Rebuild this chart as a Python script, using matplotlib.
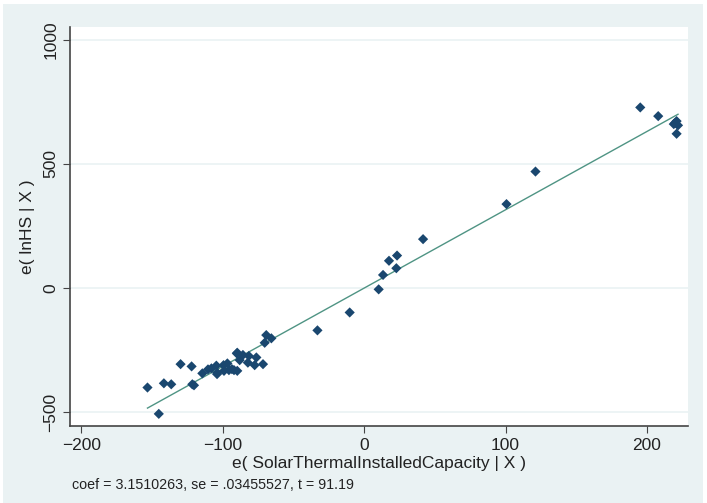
import numpy as np
import matplotlib
matplotlib.use("Agg")
import matplotlib.pyplot as plt
from matplotlib.patches import Rectangle

plt.rcParams['font.family'] = ['Liberation Sans', 'DejaVu Sans']

# residuals
ex = [195.3, 208.0, 219.0, 221.0, 222.0, 220.0, 221.0, 121.2, 100.7,
      41.7, 23.3, 17.6, 22.8, 13.4, 10.3, -10.2, -33.0,
      -69.2, -65.6, -70.3, -89.7, -85.7, -81.5, -76.2, -88.0, -82.2, -77.4, -71.5,
      -96.7, -104.5, -108.0, -110.4, -103.8, -99.1, -95.6, -92.0, -89.7, -114.4,
      -129.8, -122.0, -141.6, -136.4, -153.2, -121.5, -120.3, -145.2,
      -90.0, -99.4, -93.5, -104.0]
ey = [727, 692, 660, 672, 655, 665, 621, 469, 338,
      197, 131, 110, 80, 53, -5, -98, -170,
      -189, -202, -220, -260, -269, -273, -279, -290, -300, -310, -306,
      -303, -312, -323, -327, -341, -333, -330, -330, -333, -343,
      -306, -315, -383, -387, -400, -387, -391, -506,
      -263, -310, -326, -346]
coef = 3.1510263
note = "coef = 3.1510263, se = .03455527, t = 91.19"

bg = '#eaf2f3'
fig = plt.figure(figsize=(7.07, 5.03), dpi=100)
fig.patch.set_facecolor('white')
fig.patches.append(Rectangle((0.004, 0.0), 0.99, 0.992, transform=fig.transFigure,
                             facecolor=bg, edgecolor='none', zorder=-10))
ax = fig.add_axes([0.099, 0.153, 0.874, 0.793])
ax.set_facecolor('white')

xs = np.array(ex)
lx = np.array([xs.min(), xs.max()])
ax.plot(lx, coef * lx, color='#4f9484', lw=1.0, zorder=2)
ax.scatter(ex, ey, marker='D', s=27, color='#1a476f', edgecolors='none', zorder=3)

ax.set_xlim(-208, 229)
ax.set_ylim(-555, 1050)
ax.set_xticks([-200, -100, 0, 100, 200])
ax.set_yticks([-500, 0, 500, 1000])
for yv in [-500, 0, 500, 1000]:
    ax.axhline(yv, color=bg, lw=1.2, zorder=1)
for s in ['top', 'right']:
    ax.spines[s].set_visible(False)
for s in ['left', 'bottom']:
    ax.spines[s].set_color('#444444')
    ax.spines[s].set_linewidth(1.2)
ax.tick_params(length=5, color='#444444', labelsize=12.5, labelcolor='#222222')
plt.setp(ax.get_yticklabels(), rotation=90, va='center')

ax.set_xlabel("e( SolarThermalInstalledCapacity | X )", fontsize=12.5, color='#222222', labelpad=2)
ax.set_ylabel("e( lnHS | X )", fontsize=12.5, color='#222222', labelpad=6)
fig.text(0.102, 0.028, note, fontsize=10.3, color='#222222')

fig.savefig("out.png", dpi=100, facecolor=fig.get_facecolor())
